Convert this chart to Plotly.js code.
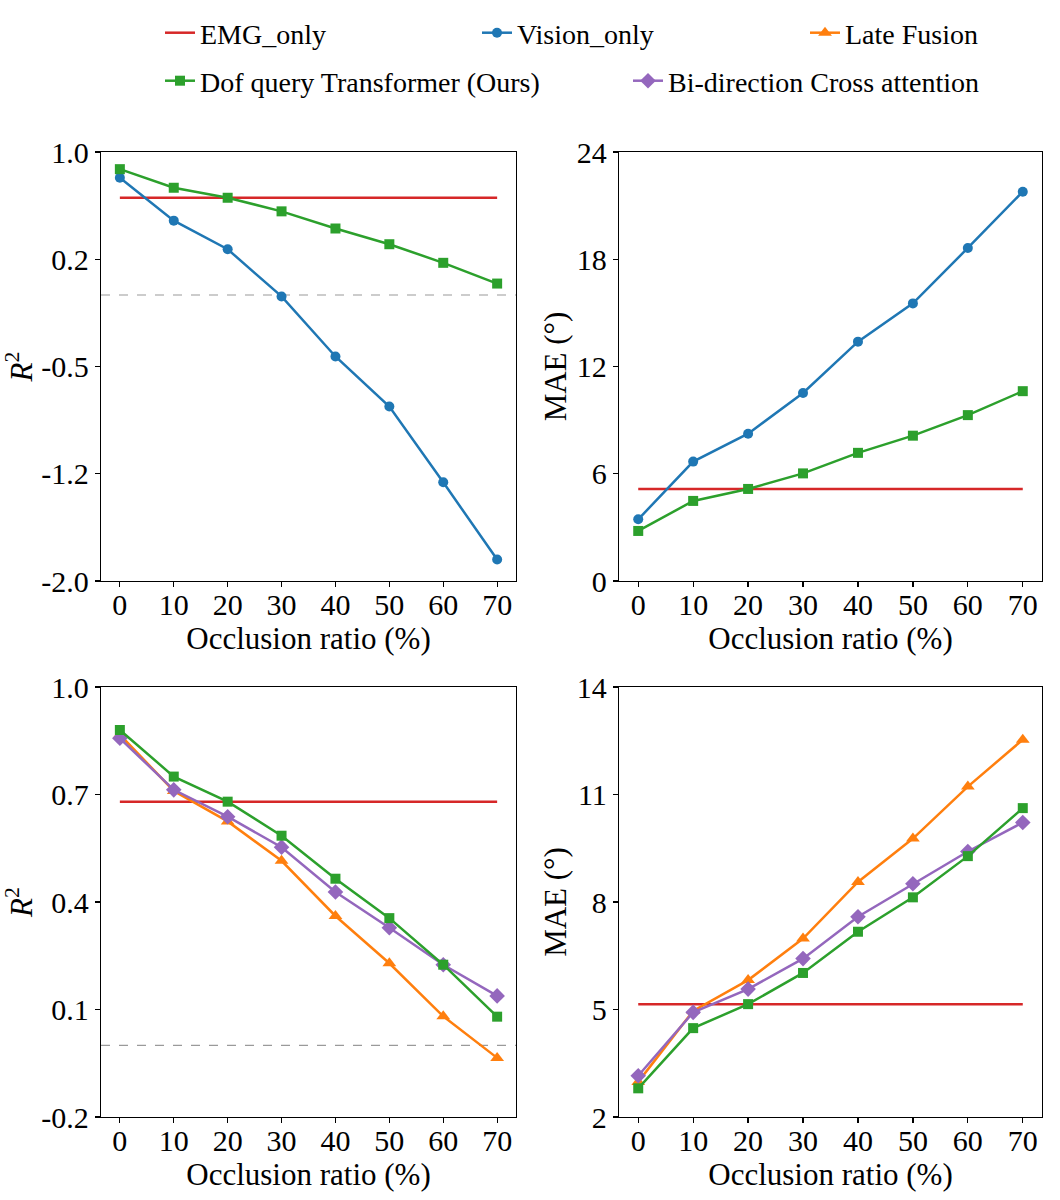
<!DOCTYPE html>
<html>
<head>
<meta charset="utf-8">
<script src="https://cdn.plot.ly/plotly-3.0.1.min.js"></script>
<style>
  html, body { margin: 0; padding: 0; background: #fff; }
  #chart { width: 1060px; height: 1200px; }
</style>
</head>
<body>
<div id="chart"></div>
<script>
// occlusion ratios (%)
const occlusion = [0, 10, 20, 30, 40, 50, 60, 70];

// R^2, top-left panel
const emgR2 = [0.68, 0.68, 0.68, 0.68, 0.68, 0.68, 0.68, 0.68];
const visionR2 = [0.82, 0.52, 0.32, -0.01, -0.43, -0.78, -1.31, -1.85];
const dofR2 = [0.88, 0.75, 0.68, 0.585, 0.465, 0.355, 0.225, 0.08];

// MAE (deg), top-right panel
const emgMAE = [5.15, 5.15, 5.15, 5.15, 5.15, 5.15, 5.15, 5.15];
const visionMAE = [3.45, 6.68, 8.24, 10.52, 13.39, 15.53, 18.63, 21.78];
const dofMAE = [2.8, 4.48, 5.15, 6.02, 7.17, 8.13, 9.28, 10.62];

// bottom panels
const lateR2 = [0.867, 0.71, 0.625, 0.515, 0.361, 0.229, 0.081, -0.035];
const biR2 = [0.857, 0.713, 0.638, 0.553, 0.428, 0.328, 0.225, 0.138];
const lateMAE = [2.98, 4.96, 5.82, 6.98, 8.56, 9.77, 11.22, 12.53];
const biMAE = [3.15, 4.92, 5.57, 6.42, 7.59, 8.51, 9.41, 10.22];

// tick labels
const r2TopTicks = [1.0, 0.25, -0.5, -1.25, -2.0];
const r2TopText = ['1.0', '0.2', '-0.5', '-1.2', '-2.0'];
const maeTopTicks = [0, 6, 12, 18, 24];
const r2BotTicks = [1.0, 0.7, 0.4, 0.1, -0.2];
const r2BotText = ['1.0', '0.7', '0.4', '0.1', '-0.2'];
const maeBotTicks = [2, 5, 8, 11, 14];

const RED = '#d62728', BLUE = '#1f77b4', ORANGE = '#ff7f0e', GREEN = '#2ca02c', PURPLE = '#9467bd';

function series(name, y, color, symbol, size, ax, legend, show) {
  const t = {
    x: occlusion, y: y, name: name, type: 'scatter',
    mode: symbol ? 'lines+markers' : 'lines',
    line: { color: color, width: 2.5 },
    xaxis: 'x' + (ax === 1 ? '' : ax), yaxis: 'y' + (ax === 1 ? '' : ax),
    legend: legend, showlegend: show
  };
  if (symbol) t.marker = { symbol: symbol, size: size, color: color };
  return t;
}

// one legend per entry so each sits where the reference has it
const data = [
  series('EMG_only', emgR2, RED, null, 0, 1, 'legend', true),
  series('Vision_only', visionR2, BLUE, 'circle', 10, 1, 'legend2', true),
  series('Dof query Transformer (Ours)', dofR2, GREEN, 'square', 10, 1, 'legend4', true),

  series('EMG_only', emgMAE, RED, null, 0, 2, 'legend', false),
  series('Vision_only', visionMAE, BLUE, 'circle', 10, 2, 'legend2', false),
  series('Dof query Transformer (Ours)', dofMAE, GREEN, 'square', 10, 2, 'legend4', false),

  series('EMG_only', emgR2, RED, null, 0, 3, 'legend', false),
  series('Late Fusion', lateR2, ORANGE, 'triangle-up', 12, 3, 'legend3', true),
  series('Bi-direction Cross attention', biR2, PURPLE, 'diamond', 12, 3, 'legend5', true),
  series('Dof query Transformer (Ours)', dofR2, GREEN, 'square', 10, 3, 'legend4', false),

  series('EMG_only', emgMAE, RED, null, 0, 4, 'legend', false),
  series('Late Fusion', lateMAE, ORANGE, 'triangle-up', 12, 4, 'legend3', false),
  series('Bi-direction Cross attention', biMAE, PURPLE, 'diamond', 12, 4, 'legend5', false),
  series('Dof query Transformer (Ours)', dofMAE, GREEN, 'square', 10, 4, 'legend4', false)
];

const FONT = 'Liberation Serif, Times New Roman, serif';

function xax(domain, anchor) {
  return {
    domain: domain, anchor: anchor, range: [-3.5, 73.5],
    tickvals: occlusion, ticks: 'outside', ticklen: 5, tickwidth: 1.2, tickcolor: '#000',
    ticklabelstandoff: -8,
    showline: true, linecolor: '#000', linewidth: 1.2, mirror: true,
    showgrid: false, zeroline: false,
    tickfont: { family: FONT, size: 30, color: '#000' },
    title: { text: 'Occlusion ratio (%)', standoff: 4, font: { family: FONT, size: 31, color: '#000' } }
  };
}
function yax(domain, anchor, range, tv, tt, title, standoff) {
  return {
    domain: domain, anchor: anchor, range: range,
    tickvals: tv, ticktext: tt, ticks: 'outside', ticklen: 5, tickwidth: 1.2, tickcolor: '#000',
    showline: true, linecolor: '#000', linewidth: 1.2, mirror: true,
    showgrid: false, zeroline: false,
    tickfont: { family: FONT, size: 30, color: '#000' },
    title: { text: title, standoff: standoff, font: { family: FONT, size: 31, color: '#000' } }
  };
}

function leg(xpx, ypx) {
  return {
    orientation: 'h', x: xpx / 1060, xanchor: 'left', y: 1 - ypx / 1200, yanchor: 'middle',
    bgcolor: 'rgba(0,0,0,0)', borderwidth: 0,
    font: { family: FONT, size: 28, color: '#000' }
  };
}

const xL = [101 / 1060, 516 / 1060], xR = [619 / 1060, 1042 / 1060];
const yT = [1 - 581 / 1200, 1 - 152 / 1200], yB = [1 - 1117 / 1200, 1 - 687 / 1200];

const layout = {
  width: 1060, height: 1200,
  margin: { l: 0, r: 0, t: 0, b: 0 },
  paper_bgcolor: '#fff', plot_bgcolor: '#fff',
  font: { family: FONT, color: '#000' },
  xaxis: xax(xL, 'y'),
  yaxis: yax(yT, 'x', [-2.0, 1.0], r2TopTicks, r2TopText, '<i>R</i><sup>2</sup>', 8),
  xaxis2: xax(xR, 'y2'),
  yaxis2: yax(yT, 'x2', [0, 24], maeTopTicks, maeTopTicks.map(String), 'MAE (°)', 1),
  xaxis3: xax(xL, 'y3'),
  yaxis3: yax(yB, 'x3', [-0.2, 1.0], r2BotTicks, r2BotText, '<i>R</i><sup>2</sup>', 8),
  xaxis4: xax(xR, 'y4'),
  yaxis4: yax(yB, 'x4', [2, 14], maeBotTicks, maeBotTicks.map(String), 'MAE (°)', 1),
  legend: leg(160, 33),
  legend2: leg(477, 33),
  legend3: leg(805, 33),
  legend4: leg(160, 81),
  legend5: leg(628, 81),
  shapes: [
    { type: 'line', xref: 'x domain', yref: 'y', x0: 0, x1: 1, y0: 0, y1: 0,
      line: { color: '#9a9a9a', width: 1.2, dash: 'dash' }, layer: 'below' },
    { type: 'line', xref: 'x3 domain', yref: 'y3', x0: 0, x1: 1, y0: 0, y1: 0,
      line: { color: '#9a9a9a', width: 1.2, dash: 'dash' }, layer: 'below' }
  ]
};

Plotly.newPlot('chart', data, layout, { displayModeBar: false, staticPlot: true });
</script>
</body>
</html>
